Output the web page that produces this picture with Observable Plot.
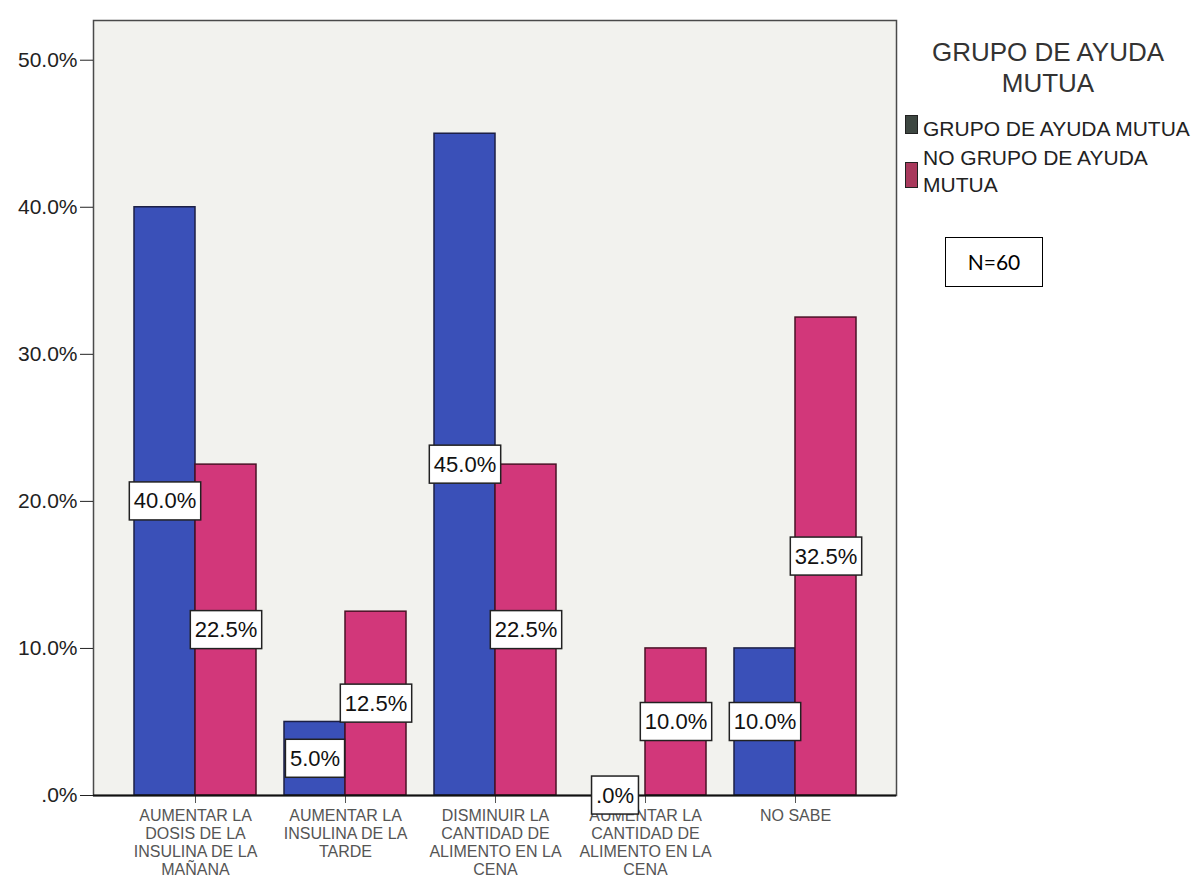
<!DOCTYPE html>
<html>
<head>
<meta charset="utf-8">
<script src="https://cdn.jsdelivr.net/npm/d3@7"></script>
<script src="https://cdn.jsdelivr.net/npm/@observablehq/plot@0.6"></script>
<style>
  html, body { margin: 0; padding: 0; background: #ffffff; }
  #wrap { position: relative; width: 1197px; height: 883px; font-family: "Liberation Sans", Arial, sans-serif; }
  #chart { position: absolute; left: 0; top: 0; }
  .legend-title { position: absolute; left: 918px; top: 37px; width: 260px; text-align: center; font-size: 26px; line-height: 31px; color: #333; }
  .legend-item { position: absolute; left: 923px; font-size: 21px; line-height: 27px; color: #222; white-space: nowrap; }
  .swatch { position: absolute; left: 905px; width: 11px; border: 1px solid #222; }
  .nbox { position: absolute; left: 945px; top: 237px; width: 96px; height: 48px; border: 1.5px solid #000; background: #fff;
          font-family: Lato, "Open Sans", sans-serif; font-size: 21px; line-height: 48px; text-align: center; color: #000; }
</style>
</head>
<body>
<div id="wrap">
  <div id="chart"></div>
  <div class="legend-title">GRUPO DE AYUDA<br>MUTUA</div>
  <div class="swatch" style="top:115px;height:17px;background:#3d4741;"></div>
  <div class="legend-item" style="top:115px;">GRUPO DE AYUDA MUTUA</div>
  <div class="swatch" style="top:162px;height:24px;background:#a8395c;"></div>
  <div class="legend-item" style="top:144px;">NO GRUPO DE AYUDA<br>MUTUA</div>
  <div class="nbox">N=60</div>
</div>
<script>
// ---- data ----
const categories = [
  "AUMENTAR LA\nDOSIS DE LA\nINSULINA DE LA\nMAÑANA",
  "AUMENTAR LA\nINSULINA DE LA\nTARDE",
  "DISMINUIR LA\nCANTIDAD DE\nALIMENTO EN LA\nCENA",
  "AUMENTAR LA\nCANTIDAD DE\nALIMENTO EN LA\nCENA",
  "NO SABE"
];
const seriesNames = ["GRUPO DE AYUDA MUTUA", "NO GRUPO DE AYUDA MUTUA"];
const grupoValues = [40.0, 5.0, 45.0, 0.0, 10.0];
const noGrupoValues = [22.5, 12.5, 22.5, 10.0, 32.5];
const yTicks = [0, 10, 20, 30, 40, 50];
const yTickLabels = [".0%", "10.0%", "20.0%", "30.0%", "40.0%", "50.0%"];
const yMax = 52.7;

const colors = ["#3a50b8", "#d2377a"];
const strokes = ["#1c1f45", "#4a1226"];

const rows = categories.flatMap((c, i) => [
  {cat: c, series: seriesNames[0], value: grupoValues[i]},
  {cat: c, series: seriesNames[1], value: noGrupoValues[i]}
]);
const fmtVal = v => v === 0 ? ".0%" : v.toFixed(1) + "%";

function build(bw) {
  return Plot.plot({
    width: 1197,
    height: 883,
    marginLeft: 93,
    marginRight: 301,
    marginTop: 20,
    marginBottom: 88,
    style: {fontFamily: "'Liberation Sans', Arial, sans-serif", background: "transparent", overflow: "visible"},
    x: {domain: categories, paddingInner: 0.187, paddingOuter: 0.27},
    y: {domain: [0, yMax]},
    marks: [
      Plot.frame({fill: "#f2f2ee", stroke: "#4a4a4a", strokeWidth: 1.5}),
      Plot.axisY({ticks: yTicks, tickFormat: d => yTickLabels[yTicks.indexOf(d)], tickSize: 13, tickPadding: 3,
                  fontSize: 21, color: "#222", label: null, line: true}),
      Plot.axisX({tickSize: 8, tickPadding: 5, fontSize: 16, lineHeight: 1.125, color: "#555", label: null, tickFormat: d => d}),
      Plot.barY(rows, {filter: d => d.series === seriesNames[0], x: "cat", y: "value", insetRight: bw / 2,
                       fill: colors[0], stroke: strokes[0], strokeWidth: 1.5}),
      Plot.barY(rows, {filter: d => d.series === seriesNames[1], x: "cat", y: "value", insetLeft: bw / 2,
                       fill: colors[1], stroke: strokes[1], strokeWidth: 1.5}),
      Plot.ruleY([0], {stroke: "#111", strokeWidth: 2}),
      Plot.ruleX([categories[0]], {stroke: "none"}),
      Plot.text(rows, {filter: d => d.series === seriesNames[0], x: "cat", y: d => d.value / 2, text: d => fmtVal(d.value),
                       dx: -bw / 4, fontSize: 22, fill: "#111"}),
      Plot.text(rows, {filter: d => d.series === seriesNames[1], x: "cat", y: d => d.value / 2, text: d => fmtVal(d.value),
                       dx: bw / 4, fontSize: 22, fill: "#111"})
    ]
  });
}

const probe = build(0);
const bw = probe.scale("x").bandwidth;
const chart = build(bw);
document.getElementById("chart").append(chart);

// white boxes behind value labels
const svgNS = "http://www.w3.org/2000/svg";
chart.querySelectorAll('g[aria-label="text"] text').forEach(t => {
  const b = t.getBBox();
  const padX = 4.5, padY = 6.5;
  const r = document.createElementNS(svgNS, "rect");
  r.setAttribute("x", b.x - padX);
  r.setAttribute("y", b.y - padY);
  r.setAttribute("width", b.width + 2 * padX);
  r.setAttribute("height", b.height + 2 * padY);
  r.setAttribute("fill", "#ffffff");
  r.setAttribute("stroke", "#222");
  r.setAttribute("stroke-width", "1.5");
  const tr = t.getAttribute("transform");
  if (tr) r.setAttribute("transform", tr);
  t.parentNode.insertBefore(r, t);
});
</script>
</body>
</html>
